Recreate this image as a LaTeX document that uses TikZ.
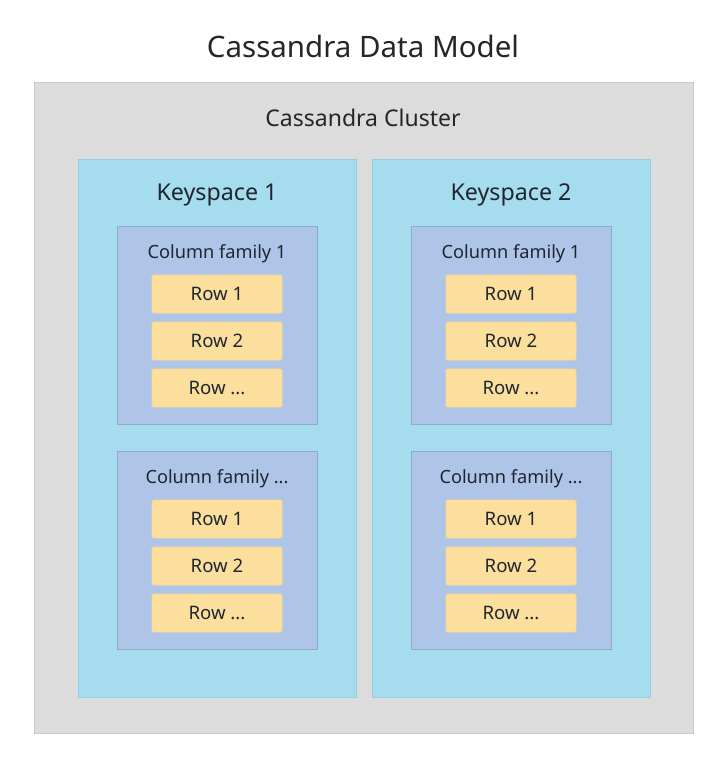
\documentclass[tikz,border=0pt]{standalone}
\usepackage{fontspec}
\setmainfont{Noto Sans}
\definecolor{clusterfill}{HTML}{DCDCDC}
\definecolor{clusterline}{HTML}{C9C9C9}
\definecolor{ksfill}{HTML}{A6DDEE}
\definecolor{ksline}{HTML}{8FCFE3}
\definecolor{cffill}{HTML}{AFC5E8}
\definecolor{cfline}{HTML}{8EA9D2}
\definecolor{rowfill}{HTML}{FCDF9C}
\definecolor{txt}{HTML}{1E2630}
\newcommand\cfdots{...}
\tikzset{
  box/.style={rectangle, anchor=north west, inner sep=0pt, line width=0.8pt},
  clusterbox/.style={box, fill=clusterfill, draw=clusterline},
  ksbox/.style={box, fill=ksfill, draw=ksline},
  cfbox/.style={box, fill=cffill, draw=cfline, minimum width=200pt, minimum height=198pt},
  rowbox/.style={box, fill=rowfill, draw=rowfill!92!orange, rounded corners=1.5pt, minimum width=130pt, minimum height=38pt, anchor=center, font=\fontsize{18.6}{22}\selectfont, text=txt},
  lbl/.style={inner sep=0pt, text=txt},
}
\begin{document}
\begin{tikzpicture}[x=1pt,y=-1pt]
\useasboundingbox (0,0) rectangle (720,766);
\fill[white] (0,0) rectangle (720,766);
\node[lbl, font=\fontsize{29.5}{34}\selectfont, text=black!85] (title) at (363,46) {Cassandra Data Model};
\node[clusterbox, minimum width=659pt, minimum height=651pt] (cluster) at (34,82) {};
\node[lbl, font=\fontsize{23}{27}\selectfont, text=black!85] (clusterlbl) at (363,118) {Cassandra Cluster};
% keyspaces
\foreach \k/\x in {1/78, 2/372} {
  \node[ksbox, minimum width=278pt, minimum height=538pt] (ks\k) at (\x,159) {};
  \node[lbl, font=\fontsize{23.2}{27}\selectfont] (ks\k lbl) at (\x+139,195) {Keyspace \k};
  % column families
  \foreach \c/\y/\name in {a/226/1, b/451/\cfdots} {
    \node[cfbox] (cf\k\c) at (\x+39,\y) {};
    \node[lbl, font=\fontsize{18.2}{22}\selectfont] (cf\k\c lbl) at (\x+139,\y+28) {Column family \name};
    \node[rowbox] (r\k\c1) at (\x+139,\y+68) {Row 1};
    \node[rowbox] (r\k\c2) at (\x+139,\y+115) {Row 2};
    \node[rowbox] (r\k\c3) at (\x+139,\y+162) {Row ...};
  }
}
\end{tikzpicture}
\end{document}
